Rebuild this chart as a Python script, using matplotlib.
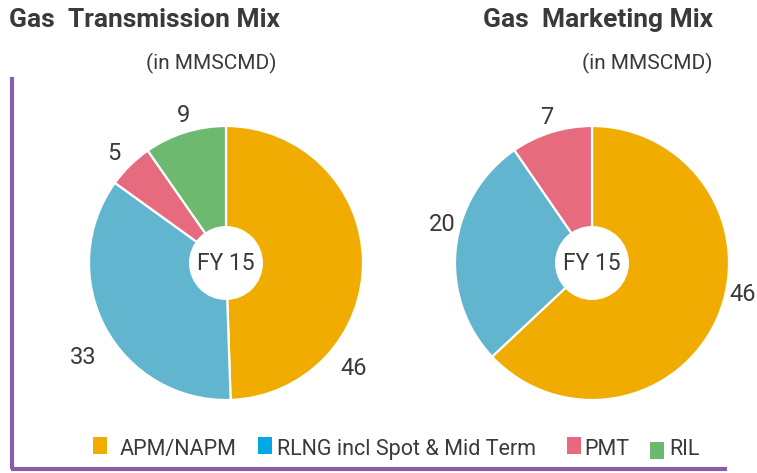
import matplotlib.pyplot as plt
from matplotlib.patches import Circle, Rectangle

plt.rcParams["font.family"] = ["Roboto", "DejaVu Sans"]

# data
categories = ["APM/NAPM", "RLNG incl Spot & Mid Term", "PMT", "RIL"]
transmission = [46, 33, 5, 9]
marketing = [46, 20, 7]
pie_colors = ["#F0AC00", "#62B5CE", "#E76B7E", "#6CB96F"]
legend_colors = ["#F2AC00", "#00A9E6", "#E8697D", "#6BB96F"]
center_text = "FY 15"

W, H = 757, 473
TEXT = "#3A3A3A"
PURPLE = "#8A5EA6"


def draw_pie(fig, cx, cy, r, values, label_pos):
    ax = fig.add_axes(((cx - r) / W, (H - cy - r) / H, 2 * r / W, 2 * r / H))
    ax.pie(values, colors=pie_colors[:len(values)], startangle=90, counterclock=False,
           wedgeprops=dict(edgecolor="white", linewidth=1.6))
    ax.set_xlim(-1, 1)
    ax.set_ylim(-1, 1)
    ax.set_aspect("equal")
    ax.add_patch(Circle((0, 0), 0.27, facecolor="white", edgecolor="none", zorder=5))
    ax.text(0, 0, center_text, ha="center", va="center", fontsize=16.5,
            color=TEXT, zorder=6)
    for v, (x, y) in zip(values, label_pos):
        ax.text(x, y, str(v), ha="center", va="center", fontsize=17,
                color=TEXT, clip_on=False)
    return ax


fig = plt.figure(figsize=(W / 100, H / 100), dpi=100, facecolor="white")
base = fig.add_axes((0, 0, 1, 1))
base.set_xlim(0, W)
base.set_ylim(H, 0)
base.axis("off")

# titles
base.text(9, 20, "Gas  Transmission Mix", fontsize=19, fontweight="bold",
          color=TEXT, va="center")
base.text(276, 63, "(in MMSCMD)", fontsize=15, color=TEXT, ha="right", va="center")
base.text(713, 20, "Gas  Marketing Mix", fontsize=19, fontweight="bold",
          color=TEXT, va="center", ha="right")
base.text(713, 63, "(in MMSCMD)", fontsize=15, color=TEXT, ha="right", va="center")

# frame lines
base.plot([12, 12], [77, 469], color=PURPLE, linewidth=3, solid_capstyle="butt")
base.plot([10.5, 727], [469, 469], color=PURPLE, linewidth=3, solid_capstyle="butt")

# pies
draw_pie(fig, 226, 263, 137, transmission,
         [(0.93, -0.77), (-1.04, -0.69), (-0.82, 0.80), (-0.31, 1.08)])
draw_pie(fig, 592, 263, 137, marketing,
         [(1.10, -0.23), (-1.09, 0.28), (-0.33, 1.06)])

# legend
sq_x = [93, 258, 567, 650]
txt_x = [120, 277, 584, 669]
sq_y = [437, 437, 437, 442]
for lab, c, sx, tx, sy in zip(categories, legend_colors, sq_x, txt_x, sq_y):
    base.add_patch(Rectangle((sx, sy), 14, 17, facecolor=c, edgecolor="none"))
    base.text(tx, 449, lab, fontsize=15.5, color=TEXT, va="center")

fig.savefig("out.png", dpi=100, facecolor="white")
